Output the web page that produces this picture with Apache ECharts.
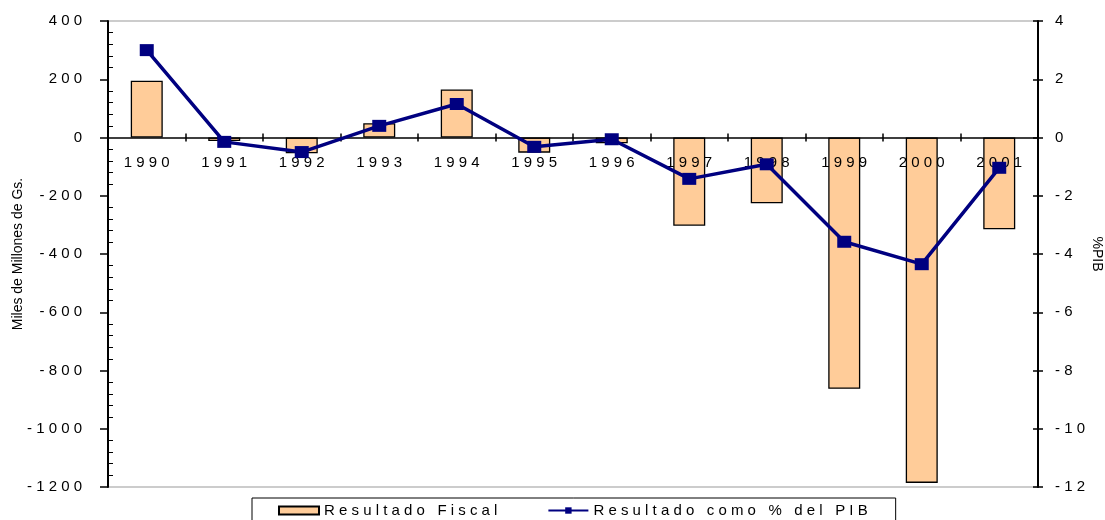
<!DOCTYPE html>
<html>
<head>
<meta charset="utf-8">
<script src="https://cdn.jsdelivr.net/npm/echarts@6/dist/echarts.min.js"></script>
<style>
  html, body { margin: 0; padding: 0; background: #fff; }
  #chart { width: 1105px; height: 520px; }
</style>
</head>
<body>
<div id="chart"></div>
<script>
const years = ["1990", "1991", "1992", "1993", "1994", "1995", "1996", "1997", "1998", "1999", "2000", "2001"];
// Resultado Fiscal, miles de millones de Gs.
const fiscal = [195, -12, -54, 49, 165, -52, -20, -303, -226, -863, -1186, -315];
// Resultado como % del PIB
const pctPib = [3.0, -0.15, -0.5, 0.4, 1.15, -0.32, -0.06, -1.42, -0.92, -3.58, -4.35, -1.04];

const leftMin = -1200, leftMax = 400, leftStep = 200;
const rightMin = -12, rightMax = 4, rightStep = 2;

const font = "'Liberation Sans', Arial, sans-serif";
// the original spreads its characters out
const spaced = (s) => String(s).split("").join(" ");

// grid box
const gTop = 21, gBottom = 33, gLeft = 108, gRight = 67;
const plotH = 520 - gTop - gBottom;
// the category axis sits on the zero line of the left axis
const zeroOffset = -plotH * (0 - leftMin) / (leftMax - leftMin);

const chart = echarts.init(document.getElementById("chart"));
chart.setOption({
  animation: false,
  textStyle: { fontFamily: font, color: "#000" },
  grid: {
    left: gLeft, right: gRight, top: gTop, bottom: gBottom,
    outerBoundsMode: "none",
    show: true, borderColor: "#999", borderWidth: 1
  },
  legend: {
    bottom: -8,
    left: 252,
    padding: [5, 28, 10, 26],
    itemGap: 50,
    borderColor: "#000",
    borderWidth: 1,
    itemWidth: 40,
    itemHeight: 8,
    textStyle: { fontSize: 15, fontFamily: font, color: "#000" },
    formatter: (name) => spaced(name),
    data: [
      { name: "Resultado Fiscal", icon: "rect" },
      { name: "Resultado como % del PIB" }
    ]
  },
  xAxis: [
    {
      type: "category",
      data: years,
      offset: zeroOffset,
      z: 5,
      axisLine: { onZero: false, lineStyle: { color: "#000", width: 1.5 } },
      axisTick: { show: true, length: 4, inside: true, lineStyle: { color: "#000", width: 1.5 } },
      axisLabel: { fontSize: 15, margin: 18, color: "#000", formatter: (v) => spaced(v) },
      splitLine: { show: false }
    },
    {
      // second set of ticks so they cross the zero line
      type: "category",
      data: years,
      position: "bottom",
      offset: zeroOffset,
      z: 5,
      axisLine: { show: false, onZero: false },
      axisTick: { show: true, length: 4, lineStyle: { color: "#000", width: 1.5 } },
      axisLabel: { show: false },
      splitLine: { show: false }
    }
  ],
  yAxis: [
    {
      type: "value",
      min: leftMin, max: leftMax, interval: leftStep,
      name: "Miles de Millones de Gs.",
      nameLocation: "middle",
      nameGap: 83,
      nameMoveOverlap: false,
      nameTextStyle: { fontSize: 14, color: "#000" },
      axisLine: { show: true, lineStyle: { color: "#000", width: 2 } },
      axisTick: { show: true, length: 8, lineStyle: { color: "#000", width: 1.5 } },
      axisLabel: { fontSize: 15, color: "#000", margin: 26, formatter: (v) => spaced(v) },
      splitLine: { show: false }
    },
    {
      type: "value",
      min: rightMin, max: rightMax, interval: rightStep,
      name: "%PIB",
      nameLocation: "middle",
      nameRotate: -90,
      nameGap: 52,
      nameMoveOverlap: false,
      nameTextStyle: { fontSize: 14, color: "#000" },
      position: "right",
      axisLine: { show: true, lineStyle: { color: "#000", width: 2 } },
      axisTick: { show: true, length: 5, lineStyle: { color: "#000", width: 1.5 } },
      axisLabel: { fontSize: 15, color: "#000", margin: 17, formatter: (v) => spaced(v) },
      splitLine: { show: false }
    },
    {
      // minor ticks of the left axis point into the plot
      type: "value",
      min: leftMin, max: leftMax, interval: leftStep,
      position: "left",
      axisLine: { show: false },
      axisTick: { show: false, inside: true },
      minorTick: { show: true, splitNumber: 5, length: 5, lineStyle: { color: "#000" } },
      axisLabel: { show: false },
      splitLine: { show: false }
    },
    {
      // inner half of the right axis ticks
      type: "value",
      min: rightMin, max: rightMax, interval: rightStep,
      position: "right",
      axisLine: { show: false },
      axisTick: { show: true, inside: true, length: 5, lineStyle: { color: "#000", width: 1.5 } },
      axisLabel: { show: false },
      splitLine: { show: false }
    }
  ],
  series: [
    {
      name: "Resultado Fiscal",
      type: "bar",
      yAxisIndex: 0,
      data: fiscal,
      barWidth: 32,
      itemStyle: { color: "#FFCC99", borderColor: "#000", borderWidth: 1.3 }
    },
    {
      name: "Resultado como % del PIB",
      type: "line",
      yAxisIndex: 1,
      data: pctPib,
      z: 6,
      symbol: "rect",
      symbolSize: [14, 12],
      lineStyle: { color: "#000080", width: 3.5 },
      itemStyle: { color: "#000080" }
    }
  ]
});
</script>
</body>
</html>
